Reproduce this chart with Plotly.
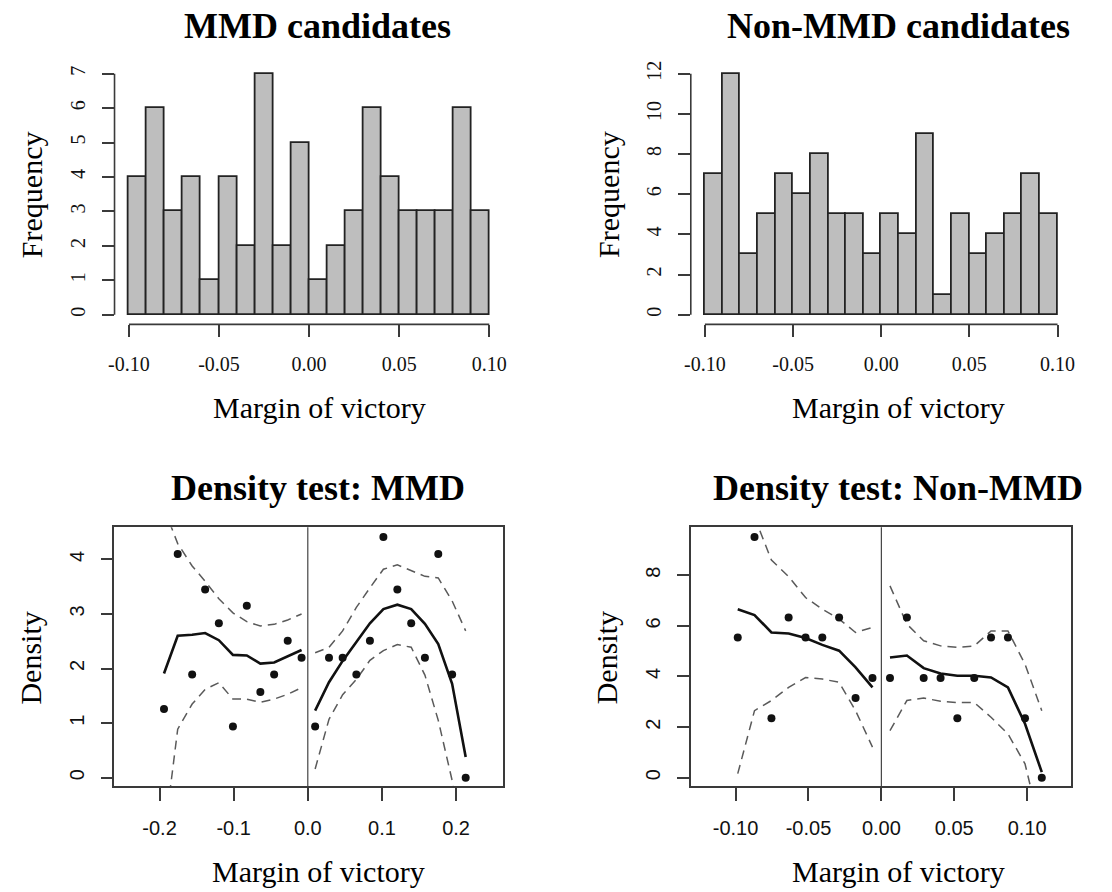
import plotly.graph_objects as go

# ---------------- data ----------------
HIST_EDGES = [-0.10, -0.09, -0.08, -0.07, -0.06, -0.05, -0.04, -0.03, -0.02, -0.01,
              0.00, 0.01, 0.02, 0.03, 0.04, 0.05, 0.06, 0.07, 0.08, 0.09, 0.10]
MMD_COUNTS = [4, 6, 3, 4, 1, 4, 2, 7, 2, 5, 1, 2, 3, 6, 4, 3, 3, 3, 6, 3]
NON_COUNTS = [7, 12, 3, 5, 7, 6, 8, 5, 5, 3, 5, 4, 9, 1, 5, 3, 4, 5, 7, 5]

HIST_XTICKS = [-0.10, -0.05, 0.00, 0.05, 0.10]
HIST_XTICK_TEXT = ["-0.10", "-0.05", "0.00", "0.05", "0.10"]
MMD_HIST_YTICKS = [0, 1, 2, 3, 4, 5, 6, 7]
NON_HIST_YTICKS = [0, 2, 4, 6, 8, 10, 12]

# Density test: MMD
MMD_XL = [-0.194, -0.1755, -0.156, -0.1385, -0.120, -0.101, -0.0823, -0.064, -0.0454, -0.0271, -0.0084]
MMD_PL = [1.26, 4.10, 1.89, 3.45, 2.83, 0.94, 3.15, 1.57, 1.89, 2.51, 2.20]
MMD_FL = [1.91, 2.60, 2.62, 2.65, 2.52, 2.25, 2.24, 2.09, 2.11, 2.22, 2.34]
MMD_UL = [4.94, 4.29, 3.88, 3.60, 3.28, 3.02, 2.86, 2.78, 2.81, 2.89, 3.00]
MMD_LL = [-1.12, 0.89, 1.35, 1.62, 1.74, 1.44, 1.44, 1.38, 1.44, 1.53, 1.65]
MMD_XR = [0.0099, 0.0286, 0.047, 0.0655, 0.0838, 0.102, 0.1208, 0.1395, 0.158, 0.176, 0.1947, 0.213]
MMD_PR = [0.94, 2.20, 2.20, 1.89, 2.51, 4.41, 3.45, 2.83, 2.20, 4.10, 1.89, 0.00]
MMD_FR = [1.23, 1.75, 2.14, 2.48, 2.83, 3.09, 3.17, 3.09, 2.82, 2.45, 1.72, 0.38]
MMD_UR = [2.29, 2.39, 2.69, 3.12, 3.48, 3.82, 3.90, 3.79, 3.69, 3.66, 3.24, 2.69]
MMD_LR = [0.16, 1.07, 1.52, 1.80, 2.15, 2.33, 2.44, 2.39, 1.88, 1.05, -0.05, -1.93]

# Density test: Non-MMD
NON_XL = [-0.0985, -0.087, -0.0754, -0.0636, -0.052, -0.0405, -0.029, -0.0177, -0.0061]
NON_PL = [5.54, 9.51, 2.35, 6.33, 5.54, 5.54, 6.33, 3.15, 3.94]
NON_FL = [6.66, 6.43, 5.74, 5.70, 5.52, 5.25, 5.02, 4.36, 3.57]
NON_UL = [13.2, 10.3, 8.60, 7.95, 7.12, 6.66, 6.27, 5.74, 5.94]
NON_LL = [0.16, 2.65, 3.05, 3.57, 3.96, 3.90, 3.77, 2.65, 1.21]
NON_XR = [0.0059, 0.0175, 0.029, 0.0406, 0.0521, 0.0637, 0.0752, 0.0868, 0.0985, 0.110]
NON_PR = [3.94, 6.33, 3.94, 3.94, 2.35, 3.94, 5.54, 5.54, 2.35, 0.00]
NON_FR = [4.75, 4.83, 4.33, 4.12, 4.03, 4.03, 3.96, 3.57, 2.13, 0.22]
NON_UR = [7.58, 6.07, 5.41, 5.21, 5.15, 5.21, 5.80, 5.80, 4.49, 2.65]
NON_LR = [1.86, 3.05, 3.15, 3.02, 2.97, 2.97, 2.39, 1.73, 0.55, -2.21]

CUTOFF = 0.0
MMD_DENS_XTICKS = [-0.2, -0.1, 0.0, 0.1, 0.2]
MMD_DENS_XTEXT = ["-0.2", "-0.1", "0.0", "0.1", "0.2"]
MMD_DENS_YTICKS = [0, 1, 2, 3, 4]
NON_DENS_XTICKS = [-0.10, -0.05, 0.00, 0.05, 0.10]
NON_DENS_XTEXT = ["-0.10", "-0.05", "0.00", "0.05", "0.10"]
NON_DENS_YTICKS = [0, 2, 4, 6, 8]

# ---------------- layout helpers ----------------
W, H = 1112, 892
def fx(p): return p / W
def fy(p): return 1 - p / H

SERIF = "Liberation Serif, Times New Roman, serif"
SANS = "Liberation Sans, Arial, sans-serif"
AXC = "#3a3a3a"

centers = [(a + b) / 2 for a, b in zip(HIST_EDGES[:-1], HIST_EDGES[1:])]
widths = [b - a for a, b in zip(HIST_EDGES[:-1], HIST_EDGES[1:])]

fig = go.Figure()

# histograms
for counts, xa, ya in [(MMD_COUNTS, "x", "y"), (NON_COUNTS, "x2", "y2")]:
    fig.add_trace(go.Bar(x=centers, y=counts, width=widths, xaxis=xa, yaxis=ya,
                         marker=dict(color="#BEBEBE", line=dict(color="#222222", width=1.8)),
                         showlegend=False, hoverinfo="x+y"))

def dens(xl, pl, fl, ul, ll, xr, pr, fr, ur, lr, xa, ya):
    for xs, p, f, u, l in [(xl, pl, fl, ul, ll), (xr, pr, fr, ur, lr)]:
        for band in (u, l):
            fig.add_trace(go.Scatter(x=xs, y=band, mode="lines", xaxis=xa, yaxis=ya,
                                     line=dict(color="#5a5a5a", width=1.5, dash="9px,6px"),
                                     showlegend=False))
        fig.add_trace(go.Scatter(x=xs, y=f, mode="lines", xaxis=xa, yaxis=ya,
                                 line=dict(color="#111111", width=2.6), showlegend=False))
        fig.add_trace(go.Scatter(x=xs, y=p, mode="markers", xaxis=xa, yaxis=ya,
                                 marker=dict(color="#111111", size=8), showlegend=False))

dens(MMD_XL, MMD_PL, MMD_FL, MMD_UL, MMD_LL, MMD_XR, MMD_PR, MMD_FR, MMD_UR, MMD_LR, "x3", "y3")
dens(NON_XL, NON_PL, NON_FL, NON_UL, NON_LL, NON_XR, NON_PR, NON_FR, NON_UR, NON_LR, "x4", "y4")

def hist_x(domain, rng):
    return dict(domain=domain, range=rng, showgrid=False, zeroline=False, showline=False,
                ticks="outside", ticklen=12, tickwidth=1.5, tickcolor=AXC,
                tickvals=HIST_XTICKS, ticktext=HIST_XTICK_TEXT,
                tickfont=dict(family=SERIF, size=20, color="#111"), ticklabelstandoff=10)

def hist_y(domain, rng, ticks, anchor):
    return dict(domain=domain, range=rng, anchor=anchor, showgrid=False, zeroline=False, showline=False,
                ticks="outside", ticklen=12, tickwidth=1.5, tickcolor=AXC,
                tickvals=ticks, tickangle=-90,
                tickfont=dict(family=SERIF, size=20, color="#111"), ticklabelstandoff=9)

def dens_x(domain, rng, tv, tt, anchor):
    return dict(domain=domain, range=rng, anchor=anchor, showgrid=False, zeroline=False,
                showline=True, mirror=True, linecolor=AXC, linewidth=1.6,
                ticks="outside", ticklen=13, tickwidth=1.5, tickcolor=AXC,
                tickvals=tv, ticktext=tt,
                tickfont=dict(family=SANS, size=20, color="#111"), ticklabelstandoff=10)

def dens_y(domain, rng, tv, anchor):
    return dict(domain=domain, range=rng, anchor=anchor, showgrid=False, zeroline=False,
                showline=True, mirror=True, linecolor=AXC, linewidth=1.6,
                ticks="outside", ticklen=12, tickwidth=1.5, tickcolor=AXC,
                tickvals=tv, tickangle=-90,
                tickfont=dict(family=SANS, size=20, color="#111"), ticklabelstandoff=9)

top_y = [fy(322.5), fy(61.3)]
bot_y = [fy(786), fy(526)]

fig.update_layout(
    width=W, height=H, margin=dict(l=0, r=0, t=0, b=0),
    paper_bgcolor="white", plot_bgcolor="white", bargap=0,
    xaxis=dict(hist_x([fx(108.5), fx(501.2)], [-0.108, 0.108]), anchor="y"),
    yaxis=hist_y(top_y, [-0.28, 7.28], MMD_HIST_YTICKS, "x"),
    xaxis2=dict(hist_x([fx(690), fx(1074.3)], [-0.108, 0.108]), anchor="y2"),
    yaxis2=hist_y(top_y, [-0.48, 12.48], NON_HIST_YTICKS, "x2"),
    xaxis3=dens_x([fx(108.3), fx(501)], [-0.261, 0.264], MMD_DENS_XTICKS, MMD_DENS_XTEXT, "y3"),
    yaxis3=dens_y(bot_y, [-0.159, 4.59], MMD_DENS_YTICKS, "x3"),
    xaxis4=dens_x([fx(690), fx(1073.3)], [-0.1307, 0.1298], NON_DENS_XTICKS, NON_DENS_XTEXT, "y4"),
    yaxis4=dens_y(bot_y, [-0.343, 9.90], NON_DENS_YTICKS, "x4"),
)

shapes = []
# R-style axis lines for histograms (span first to last tick)
for xa, ya, yt in [("x", "y", MMD_HIST_YTICKS), ("x2", "y2", NON_HIST_YTICKS)]:
    shapes.append(dict(type="line", xref=xa, yref=ya + " domain", x0=HIST_XTICKS[0], x1=HIST_XTICKS[-1],
                       y0=0, y1=0, line=dict(color=AXC, width=1.6)))
    shapes.append(dict(type="line", xref=xa + " domain", yref=ya, x0=0, x1=0,
                       y0=yt[0], y1=yt[-1], line=dict(color=AXC, width=1.6)))
# cutoff lines
for xa, ya in [("x3", "y3"), ("x4", "y4")]:
    shapes.append(dict(type="line", xref=xa, yref=ya + " domain", x0=CUTOFF, x1=CUTOFF,
                       y0=0, y1=1, line=dict(color="#444", width=1.2)))
fig.update_layout(shapes=shapes)

ann = []
def txt(t, x, y, size, family=SERIF, bold=False, angle=0):
    ann.append(dict(text=("<b>%s</b>" % t) if bold else t, x=fx(x), y=fy(y), xref="paper", yref="paper",
                    xanchor="center", yanchor="middle", showarrow=False, textangle=angle,
                    font=dict(family=family, size=size, color="#000")))

txt("MMD candidates", 313, 23, 36, bold=True)
txt("Non-MMD candidates", 900, 23, 36, bold=True)
txt("Density test: MMD", 314, 487, 36, bold=True)
txt("Density test: Non-MMD", 899, 487, 36, bold=True)
txt("Margin of victory", 315, 406, 30)
txt("Margin of victory", 900, 406, 30)
txt("Margin of victory", 314, 871, 30)
txt("Margin of victory", 900, 871, 30)
txt("Frequency", 25, 192, 30, angle=-90)
txt("Frequency", 607, 192, 30, angle=-90)
txt("Density", 24, 657, 30, angle=-90)
txt("Density", 605, 657, 30, angle=-90)
fig.update_layout(annotations=ann)

fig.write_html("out.html")
